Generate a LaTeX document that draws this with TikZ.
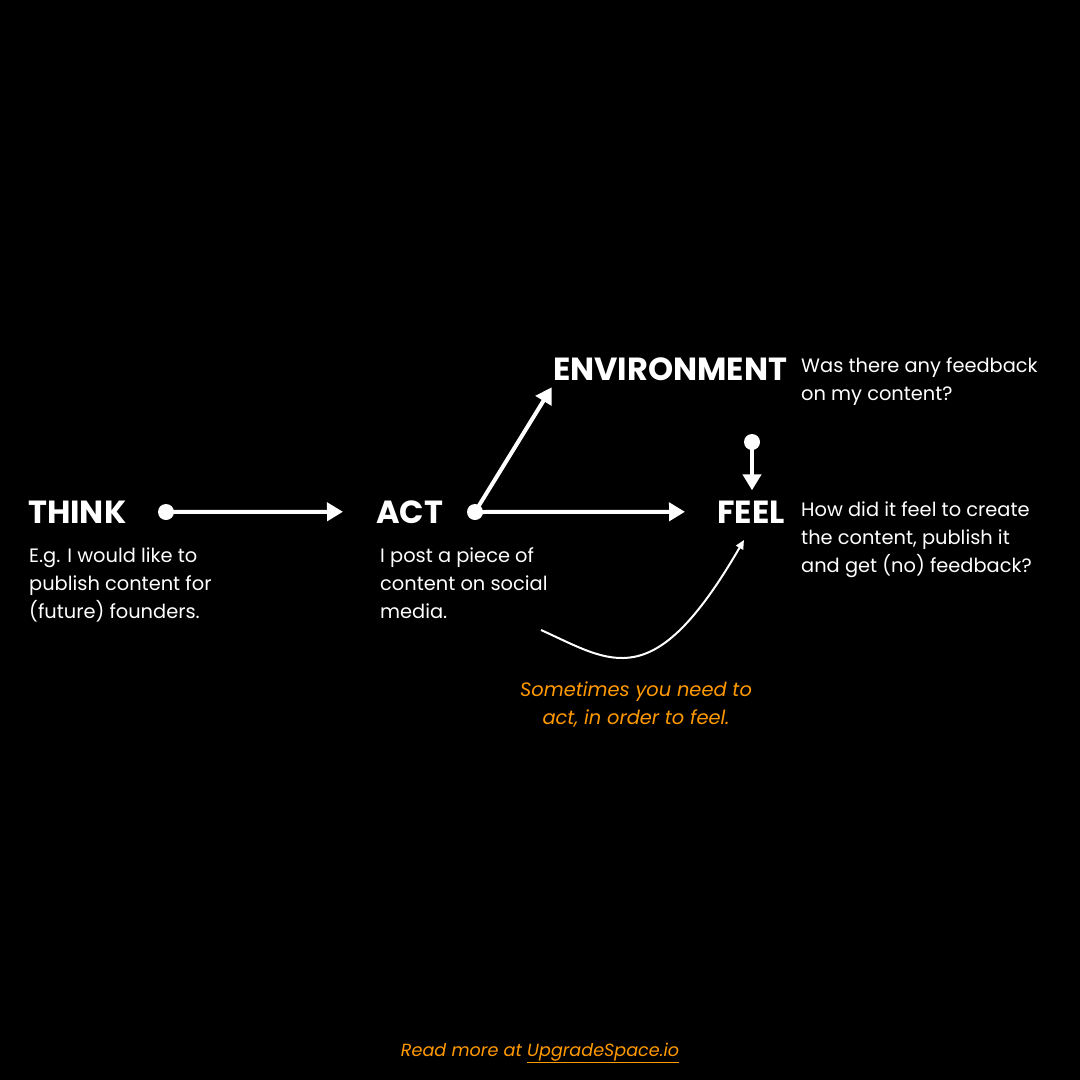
\documentclass[tikz,border=0pt]{standalone}
\usepackage{fontspec}
\setmainfont{Poppins}
\usetikzlibrary{arrows.meta}
\definecolor{orng}{RGB}{255,153,0}
\begin{document}
\begin{tikzpicture}[x=1pt,y=-1pt,
  head/.style={anchor=base west,inner sep=0pt,text=white,font=\fontsize{32}{32}\selectfont\bfseries},
  body/.style={anchor=base west,inner sep=0pt,text=white,align=left,font=\fontsize{19.4}{28}\selectfont},
  dotn/.style={circle,fill=white,inner sep=0pt,minimum size=16pt},
  arr/.style={draw=white,line width=4pt,-{Triangle[length=16pt,width=18pt]}},
  thin/.style={draw=white,line width=2pt,-{Triangle[length=9pt,width=8pt]}},
  note/.style={text=orng,font=\fontsize{19.4}{28}\selectfont\itshape,align=center}
]
\path[fill=black] (0,0) rectangle (1080,1080);
\node[head] (think) at (28,523) {THINK};
\node[head] (act) at (376,523) {ACT};
\node[head] (env) at (553,380) {ENVIRONMENT};
\node[head] (feel) at (717,523) {FEEL};
\node[body] (thinkt) at (29,618) {E.g. I would like to\\publish content for\\(future) founders.};
\node[body] (actt) at (380,618) {I post a piece of\\content on social\\media.};
\node[body] (envt) at (801,400) {Was there any feedback\\on my content?};
\node[body] (feelt) at (801,572) {How did it feel to create\\the content, publish it\\and get (no) feedback?};
\node[dotn] (d1) at (166,512) {};
\node[dotn] (d2) at (475,512) {};
\node[dotn] (d3) at (752,442) {};
\draw[arr,shorten >=33pt] (d1.center) -- (act.west);
\draw[arr,shorten >=8pt] (d2.center) -- ([xshift=3pt]env.south west);
\draw[arr,shorten >=32pt] (d2.center) -- (feel.west);
\draw[arr,shorten >=10pt] (d3.center) -- (d3.center |- feel.north);
\coordinate (c1) at (541,630);
\coordinate (c2) at (744,540);
\draw[thin] (c1) .. controls (612,662) and (653,697) .. (c2);
\node[note] (n1) at (636,704) {Sometimes you need to\\act, in order to feel.};
\node[text=orng,font=\fontsize{17.6}{20}\selectfont\itshape] (foot) at (540,1053) {Read more at \underline{UpgradeSpace.io}};
\end{tikzpicture}
\end{document}
